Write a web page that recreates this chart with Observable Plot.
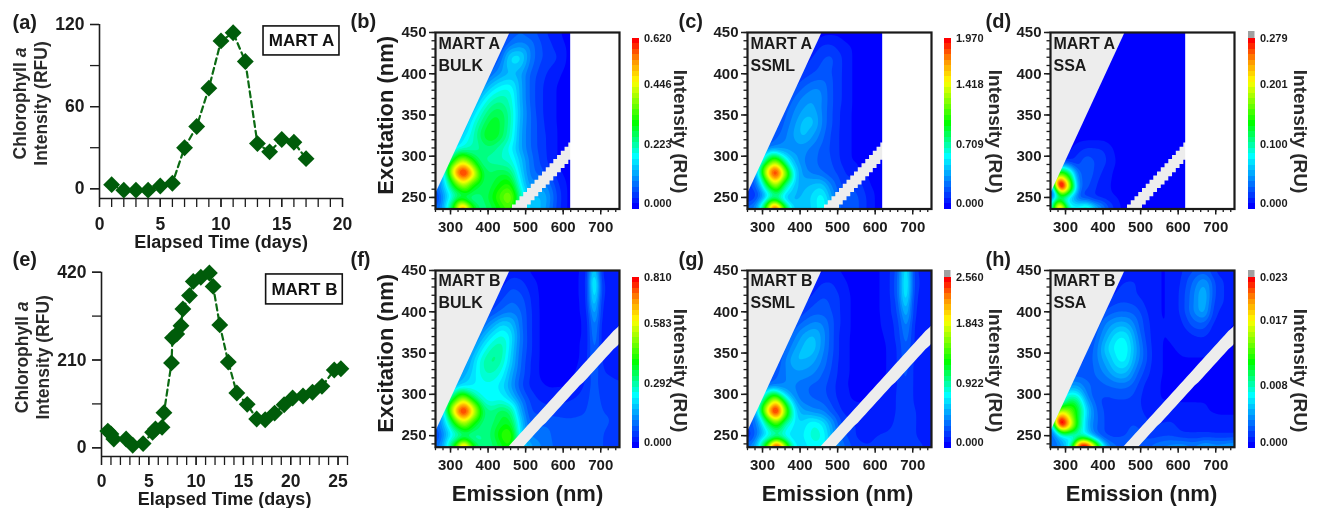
<!DOCTYPE html>
<html><head><meta charset="utf-8">
<script src="https://cdn.jsdelivr.net/npm/d3@7"></script>
<script src="https://cdn.jsdelivr.net/npm/@observablehq/plot@0.6"></script>
<style>
html,body{margin:0;padding:0;background:#fff;}
#page{position:relative;width:1323px;height:508px;overflow:hidden;background:#fff;filter:blur(0.45px);font-family:"Liberation Sans",Arial,sans-serif;}
#page svg{position:absolute;max-width:none;}
</style></head><body><div id="page"></div>
<script>
// ---- Chlorophyll a time series
const dayA=[1,2,3,4,5,6,7,8,9,10,11,12,13,14,15,16,17];
const chlA=[3,-1,-1,-1,2,4,30,45.5,73.5,108,114,93,33,27,36,34,22];
const dayB=[0.67,1,1.3,2.6,3.3,4.4,5.4,5.7,6.4,6.6,7.4,7.5,7.95,8.4,8.6,9.3,9.7,10.5,11.4,11.8,12.5,13.4,14.3,15.4,16.4,17.3,18.3,19.3,20.2,21.3,22.3,23.3,24.6,25.3];
const chlB=[40,33,21,21,6,10,37,45,49,84,203,263,272,292,332,364,398,408,418,386,294,205,131,104,69,67,83,103,119,124,133,147,186,189];

// ---- EEM axes (nm)
const emission=[260,285,310,335,360,385,410,435,460,485,510,535,560,585,610,640,668,683,698,750];
const excitation=[450,435,420,400,385,370,355,340,325,310,295,280,265,250,236];
const bandEm=[455,465,475,485,495,505,515,525,535,545,555,565,575,585,595,605,615,625,635,645,655,665,675,685,695,705,715,725,735,745,755];
const bandLow=[236,236,236,236,236,241,246,251,256,261,265,270,275,280,285,290,295,300,305,310,314,319,324,329,334,339,344,349,354,358,363];
const bandHigh=[236,241,246,251,256,261,266,271,276,281,286,291,296,301,306,311,316,321,326,331,336,341,346,351,356,361,366,371,376,380,385];

// ---- EEM intensity, % of each colour bar's top value
const gridB=[
[0,0,0,0,0,0,0,0,10,13,11,9,6,4,2,0,0,0,0,0],
[0,0,0,0,0,0,0,8,16,18,16,11,8,5,3,0,0,0,0,0],
[0,0,0,0,0,0,6,14,29,30,17,11,9,7,3,0,0,0,0,0],
[0,0,0,0,0,7,15,20,23,21,13,9,6,4,2,0,0,0,0,0],
[0,0,0,0,7,18,26,31,32,22,13,8,5,3,2,0,0,0,0,0],
[0,0,0,0,16,28,36,39,36,22,13,8,5,3,2,0,0,0,0,0],
[0,0,0,10,26,36,44,45,38,23,14,8,5,3,2,0,0,0,0,0],
[0,0,5,22,33,42,50,47,38,22,14,9,5,3,2,0,0,0,0,0],
[0,5,20,29,36,47,52,46,36,21,14,9,6,3,2,0,0,0,0,0],
[0,10,28,34,38,41,42,37,31,21,14,9,6,3,2,0,0,0,0,0],
[5,26,54,72,52,40,38,36,35,26,16,10,6,3,2,0,0,0,0,0],
[8,36,88,114,84,46,43,46,44,28,16,12,8,4,2,0,0,0,0,0],
[12,28,54,72,50,43,46,52,56,32,18,20,16,7,3,0,0,0,0,0],
[5,22,35,40,38,43,50,60,68,40,22,25,20,9,3,0,0,0,0,0],
[12,25,55,110,55,40,45,52,60,30,27,25,18,8,3,0,0,0,0,0]];
const gridC=[
[0,0,0,0,0,0,0,0,2,2,2,2,2,2,2,0,0,0,0,0],
[0,0,0,0,0,0,0,4,7,7,4,3,3,2,2,0,0,0,0,0],
[0,0,0,0,0,0,4,7,10,11,7,3,3,2,2,0,0,0,0,0],
[0,0,0,0,0,5,8,10,11,10,7,3,3,2,2,0,0,0,0,0],
[0,0,0,0,4,9,13,16,16,10,7,3,3,2,2,0,0,0,0,0],
[0,0,0,0,8,14,18,20,17,10,7,3,3,2,2,0,0,0,0,0],
[0,0,0,5,12,17,21,22,16,10,6,3,3,2,2,0,0,0,0,0],
[0,0,3,9,14,19,26,25,16,10,6,3,3,2,2,0,0,0,0,0],
[0,3,8,12,16,21,25,20,14,9,6,3,3,2,2,0,0,0,0,0],
[0,6,13,17,19,18,18,15,12,9,6,3,3,2,2,0,0,0,0,0],
[3,14,42,66,36,22,16,14,12,10,6,3,3,2,2,0,0,0,0,0],
[6,24,80,116,72,28,18,15,13,11,8,5,3,2,2,0,0,0,0,0],
[8,14,46,74,38,24,22,24,26,16,9,10,8,3,2,0,0,0,0,0],
[5,8,22,35,22,22,24,28,34,20,10,12,10,5,2,0,0,0,0,0],
[15,20,58,125,58,25,24,27,34,22,12,12,10,5,2,0,0,0,0,0]];
const gridD=[
[0,0,0,0,0,0,0,0,1,1,1,1,1,1,1,0,0,0,0,0],
[0,0,0,0,0,0,0,1,1,1,1,1,1,1,1,0,0,0,0,0],
[0,0,0,0,0,0,1,1,1,1,1,1,1,1,1,0,0,0,0,0],
[0,0,0,0,0,1,1,1,1,1,1,1,1,1,1,0,0,0,0,0],
[0,0,0,0,1,1,1,1,1,1,1,1,1,1,1,0,0,0,0,0],
[0,0,0,0,1,1,1,1,1,1,1,1,1,1,1,0,0,0,0,0],
[0,0,0,1,1,1,1,1,1,1,1,1,1,1,1,0,0,0,0,0],
[0,0,1,1,1,1,1,1,1,1,1,1,1,1,1,0,0,0,0,0],
[0,1,1,1,1,1,1,1,1,1,1,1,1,1,1,0,0,0,0,0],
[0,1,2,5,7,7,6,2,1,1,1,1,1,1,1,0,0,0,0,0],
[1,3,5,9,13,9,7,3,1,1,1,1,1,1,1,0,0,0,0,0],
[2,60,46,12,13,8,5,2,1,1,1,1,1,1,1,0,0,0,0,0],
[2,145,75,14,11,6,4,2,1,1,1,1,1,1,1,0,0,0,0,0],
[4,38,24,8,7,5,4,3,3,1,1,1,1,1,1,0,0,0,0,0],
[10,120,32,35,45,25,12,5,2,1,1,1,1,1,1,0,0,0,0,0]];
const gridF=[
[0,0,0,0,0,0,0,0,4,4,3,2,2,2,2,3,5,40,5,4],
[0,0,0,0,0,0,0,5,9,8,5,3,2,2,2,3,6,52,6,6],
[0,0,0,0,0,0,5,8,12,11,7,3,2,2,2,3,6,46,6,6],
[0,0,0,0,0,6,10,14,16,14,8,3,2,2,2,3,5,34,5,5],
[0,0,0,0,5,13,20,27,25,15,8,3,2,2,2,3,4,27,4,4],
[0,0,0,0,12,22,30,35,30,16,8,3,2,2,2,3,4,24,4,4],
[0,0,0,7,20,30,38,40,28,15,8,3,2,2,2,3,5,20,5,4],
[0,0,4,16,26,37,42,38,26,14,7,3,2,2,2,3,6,18,6,5],
[0,4,14,22,28,36,37,33,22,13,7,3,2,2,2,4,7,16,7,6],
[0,9,22,28,30,32,32,28,20,11,6,4,3,3,3,5,8,14,8,7],
[4,24,50,72,46,32,30,32,26,16,9,6,5,6,6,7,9,14,9,8],
[8,36,86,114,80,45,40,46,42,22,10,9,8,8,8,9,10,14,10,9],
[12,26,52,72,50,40,42,48,50,28,12,13,13,12,11,11,11,14,11,9],
[6,20,32,38,36,40,44,55,62,30,16,15,14,12,11,11,12,13,10,9],
[14,25,54,112,55,40,42,48,54,32,22,18,15,12,11,11,12,13,10,9]];
const gridG=[
[0,0,0,0,0,0,0,0,3,3,3,2,2,2,3,6,14,42,8,3],
[0,0,0,0,0,0,0,4,7,7,4,3,2,2,3,6,16,44,9,3],
[0,0,0,0,0,0,4,7,10,9,6,3,2,2,3,6,16,42,8,3],
[0,0,0,0,0,5,9,12,12,10,6,3,2,2,3,6,12,32,7,3],
[0,0,0,0,4,11,15,18,17,11,6,3,2,2,3,5,10,24,6,3],
[0,0,0,0,9,16,22,25,19,11,5,3,2,2,2,5,9,20,6,3],
[0,0,0,5,13,20,25,26,18,11,5,3,2,2,2,4,8,17,6,3],
[0,0,3,9,17,24,23,21,16,10,5,3,2,2,2,4,8,15,6,3],
[0,3,7,12,17,19,19,17,13,9,5,3,2,2,2,4,8,13,6,3],
[0,6,13,16,17,17,14,12,11,8,4,3,2,2,3,4,8,12,6,4],
[4,16,46,72,36,18,14,13,12,8,5,3,3,3,3,5,8,12,6,4],
[7,26,80,122,66,28,20,17,17,11,6,5,4,4,4,5,8,11,7,5],
[10,16,40,62,36,28,28,34,30,20,9,7,6,5,5,6,8,11,7,5],
[5,14,28,34,28,28,30,36,34,22,12,8,5,6,7,7,9,10,7,5],
[16,24,60,135,80,30,28,32,32,24,16,10,8,7,7,7,9,10,8,6]];
const gridH=[
[0,0,0,0,0,0,0,0,5,5,5,4,3,4,6,9,11,10,6,3],
[0,0,0,0,0,0,0,6,7,7,5,4,3,4,7,14,21,18,9,4],
[0,0,0,0,0,0,5,7,8,7,5,4,3,4,8,16,25,18,9,4],
[0,0,0,0,0,7,11,13,13,12,8,4,3,4,8,17,24,14,7,4],
[0,0,0,0,6,11,18,22,22,16,9,5,3,4,6,12,13,8,5,3],
[0,0,0,0,8,14,22,30,31,20,10,5,3,4,5,6,7,5,4,3],
[0,0,0,7,10,16,27,32,34,22,12,5,3,3,4,4,4,4,3,3],
[0,0,7,9,11,16,22,30,32,20,12,5,3,3,3,3,3,3,3,3],
[0,6,10,12,12,14,18,24,24,15,9,5,3,3,3,3,3,3,3,3],
[0,10,20,20,14,12,13,14,14,11,6,4,3,3,3,3,3,3,3,3],
[5,20,42,38,16,10,9,10,10,9,5,4,3,3,3,3,3,3,3,3],
[10,76,66,48,24,12,9,8,9,9,6,4,4,5,4,4,4,3,3,3],
[16,135,90,45,20,13,9,5,9,10,8,6,7,7,5,5,5,5,4,4],
[12,25,30,30,25,12,9,9,10,12,10,8,9,9,7,7,7,7,7,7],
[14,16,28,125,125,70,22,14,12,10,12,16,18,20,22,18,24,22,20,24]];

// ---- colour bar labels
const ticksB=[0,0.223,0.446,0.620];
const ticksC=[0,0.709,1.418,1.970];
const ticksD=[0,0.100,0.201,0.279];
const ticksF=[0,0.292,0.583,0.810];
const ticksG=[0,0.922,1.843,2.560];
const ticksH=[0,0.008,0.017,0.023];

const ink="#1c1c1c";
const font='"Liberation Sans",Arial,sans-serif';
const page=document.getElementById("page");
const baseStyle={background:"transparent",overflow:"visible",color:ink,fontFamily:font,fontWeight:"bold"};
function place(svg,left,top){svg.style.left=left+"px";svg.style.top=top+"px";page.appendChild(svg);return svg;}
const ramp=["#0000ff","#00ffff","#00ff00","#ffff00","#ff9000","#ff0000","#a8a8a8"];
const rampStops=[0,.3,.5,.75,.88,1,1.012];
const colorScale=m=>({type:"linear",domain:rampStops.map(s=>s*m),range:ramp,clamp:true,interpolate:"rgb"});

function timePanel(o){
  const L=o.left,T=o.frameTop,W=350,H=o.frameBottom-T;
  const days=d3.range(0,o.xMax+1);
  const svg=Plot.plot({
    width:W,height:T-o.top+H+54,marginLeft:L,marginRight:W-o.right,marginTop:T-o.top,marginBottom:54,
    style:baseStyle,
    x:{domain:[0,o.xMax],axis:null},
    y:{domain:[o.yMin,o.yMax],axis:null},
    marks:[
      Plot.ruleX([0],{strokeWidth:1.6}),
      Plot.ruleY([o.yMin],{strokeWidth:1.6}),
      Plot.axisX({ticks:days,tickSize:9,strokeWidth:1.3,fill:"none",label:null}),
      Plot.axisX({ticks:o.xLabels,tickSize:9,tickPadding:o.xPad,strokeWidth:1.3,fontSize:17.5,label:null}),
      Plot.axisY({ticks:o.yTicks,tickSize:9,strokeWidth:1.3,fill:"none",label:null}),
      Plot.axisY({ticks:o.yLabels,tickSize:9,tickPadding:6,strokeWidth:1.3,fontSize:17.5,label:null}),
      Plot.line(o.days,{x:o.days,y:o.vals,stroke:"#0b6a12",strokeWidth:2.2,strokeDasharray:"6,4"}),
      Plot.dot(o.days,{x:o.days,y:o.vals,symbol:"diamond2",r:7.6,fill:"#005c0a",stroke:"none"}),
      Plot.rect([0],{x1:o.box[0],x2:o.box[1],y1:o.box[2],y2:o.box[3],fill:"#fff",stroke:"#111",strokeWidth:1.6}),
      Plot.text([o.name],{x:(o.box[0]+o.box[1])/2,y:(o.box[2]+o.box[3])/2,fontSize:17,fill:"#111"}),
      Plot.text(["Chlorophyll a"],{frameAnchor:"left",textAnchor:"middle",dx:-79,dy:o.titleDy,rotate:-90,fontSize:17.5,fill:"#2a2a2a"}),
      Plot.text(["Intensity (RFU)"],{frameAnchor:"left",textAnchor:"middle",dx:-58,dy:o.titleDy,rotate:-90,fontSize:17.5,fill:"#2a2a2a"}),
      Plot.text(["Elapsed Time (days)"],{frameAnchor:"bottom",lineAnchor:"middle",dy:o.titleY,fontSize:18}),
      Plot.text([o.letter],{frameAnchor:"top-left",lineAnchor:"middle",textAnchor:"start",dx:12-L,dy:o.letterY-T,fontSize:20})
    ]
  });
  d3.select(svg).selectAll("text").filter(function(){return this.textContent==="Chlorophyll a";})
    .html('Chlorophyll <tspan font-style="italic">a</tspan>');
  place(svg,0,o.top);
}

function heatPanel(o){
  const mL=90,mT=30,mR=10,mB=60,fw=184,fh=o.frameH;
  const pts=excitation.flatMap((ex,r)=>emission.map((em,c)=>({em,ex,v:o.grid[r][c]/100*o.max})));
  const step=o.max/30;
  const thresholds=[...d3.range(0,31).map(i=>i*step),o.max*1.006,o.max*1.012];
  const marks=[
    Plot.frame({fill:"#0000ff",stroke:"none"}),
    Plot.contour(pts,{x:"em",y:"ex",fill:"v",interpolate:"barycentric",pixelSize:1,blur:3,thresholds,clip:true}),
    Plot.areaY(bandEm,{x:bandEm,y1:bandLow,y2:bandHigh,fill:"#ededed",curve:o.cut?"step-after":"linear",clip:true}),
    Plot.areaY([260,459],{x:[260,459],y1:[254,450],y2:[450,450],fill:"#ededed",clip:true})
  ];
  if(o.cut) marks.push(Plot.rect([0],{x1:o.cut,x2:750,y1:236,y2:450,fill:"#fff"}));
  marks.push(
    Plot.frame({stroke:"#1a1a1a",strokeWidth:2.2}),
    Plot.axisX({ticks:d3.range(260,751,20),tickSize:3.5,strokeWidth:1.3,fill:"none",label:null}),
    Plot.axisX({ticks:[300,400,500,600,700],tickSize:6,tickPadding:6,strokeWidth:1.5,fontSize:15,label:null}),
    Plot.axisY({ticks:d3.range(240,451,10),tickSize:3.5,strokeWidth:1.3,fill:"none",label:null}),
    Plot.axisY({ticks:[250,300,350,400,450],tickSize:6,tickPadding:3,strokeWidth:1.5,fontSize:15,label:null}),
    Plot.text([o.name],{frameAnchor:"top-left",lineAnchor:"middle",textAnchor:"start",dx:3,dy:o.nameDy,fontSize:16,fill:"#1a1a1a"}),
    Plot.text([o.kind],{frameAnchor:"top-left",lineAnchor:"middle",textAnchor:"start",dx:3,dy:o.nameDy+22,fontSize:16,fill:"#1a1a1a"}),
    Plot.text([o.letter],{frameAnchor:"top-left",lineAnchor:"middle",textAnchor:"start",dx:o.letterDx,dy:-10.5,fontSize:20})
  );
  if(o.yTitle) marks.push(Plot.text(["Excitation (nm)"],{frameAnchor:"left",textAnchor:"middle",dx:-50,dy:-5.5,rotate:-90,fontSize:22}));
  if(o.xTitle) marks.push(Plot.text(["Emission (nm)"],{frameAnchor:"bottom",lineAnchor:"middle",dy:46.5,dx:o.xTitleDx,fontSize:22}));
  const svg=Plot.plot({
    width:mL+fw+mR,height:mT+fh+mB,marginLeft:mL,marginRight:mR,marginTop:mT,marginBottom:mB,style:baseStyle,
    x:{domain:[260,750],axis:null},y:{domain:[236,450],axis:null},color:colorScale(o.max),marks
  });
  place(svg,o.left-mL,o.top-mT);
}

function colorBar(o){
  const step=o.max/30,mT=10,mB=6;
  const levels=d3.range(0,31).map(i=>({v:i*step,lo:(i===0?-1.09:i-1)*step,hi:i*step}));
  const marks=[
    Plot.rect(levels,{x1:0,x2:1,y1:"lo",y2:"hi",fill:"v",shapeRendering:"crispEdges"}),
    Plot.axisY({anchor:"right",ticks:o.ticks,tickFormat:d3.format(".3f"),tickSize:0,tickPadding:5,fontSize:11,label:null}),
    Plot.text(["Intensity (RU)"],{frameAnchor:"left",textAnchor:"middle",dx:o.titleDx,dy:11,rotate:90,fontSize:19,fill:"#2a2a2a"})
  ];
  if(o.hatch) marks.push(Plot.rect([0],{x1:0,x2:1,y1:30*step,y2:31.27*step,fill:"#a0a0a0"}));
  const svg=Plot.plot({
    width:6.5+70,height:mT+178+mB,marginLeft:0,marginRight:70,marginTop:mT,marginBottom:mB,style:baseStyle,
    x:{domain:[0,1],axis:null},y:{domain:[-1.09*step,31.27*step],axis:null},color:colorScale(o.max),marks
  });
  place(svg,o.left,o.top-mT);
}

timePanel({left:99,right:342,top:0,frameTop:24,frameBottom:198,xMax:20,yMin:-7.1,yMax:120,days:dayA,vals:chlA,xPad:10,titleY:44,
  xLabels:[0,5,10,15,20],yTicks:[0,30,60,90,120],yLabels:[0,60,120],name:"MART A",box:[13.5,19.75,97.4,118.6],titleDy:-8,letter:"(a)",letterY:22});
timePanel({left:101,right:347,top:250,frameTop:271.7,frameBottom:456,xMax:26,yMin:-20.8,yMax:420,days:dayB,vals:chlB,xPad:9,titleY:42.5,
  xLabels:[0,5,10,15,20,25],yTicks:[0,105,210,315,420],yLabels:[0,210,420],name:"MART B",box:[17.4,25.5,343,414.6],titleDy:-7,letter:"(e)",letterY:259.5});

const rowA={top:31.5,frameH:176.5,nameDy:11.5,cut:620};
const rowB={top:270,frameH:176.7,nameDy:10.7,cut:null};
heatPanel({...rowA,left:435,grid:gridB,max:0.620,name:"MART A",kind:"BULK",letter:"(b)",letterDx:-85,yTitle:true});
heatPanel({...rowA,left:746.7,grid:gridC,max:1.970,name:"MART A",kind:"SSML",letter:"(c)",letterDx:-69});
heatPanel({...rowA,left:1050.3,grid:gridD,max:0.279,name:"MART A",kind:"SSA",letter:"(d)",letterDx:-65});
heatPanel({...rowB,left:435,grid:gridF,max:0.810,name:"MART B",kind:"BULK",letter:"(f)",letterDx:-85,yTitle:true,xTitle:true,xTitleDx:0});
heatPanel({...rowB,left:746.7,grid:gridG,max:2.560,name:"MART B",kind:"SSML",letter:"(g)",letterDx:-69,xTitle:true,xTitleDx:-2});
heatPanel({...rowB,left:1050.3,grid:gridH,max:0.023,name:"MART B",kind:"SSA",letter:"(h)",letterDx:-65,xTitle:true,xTitleDx:-1});

colorBar({left:632.2,top:31,max:0.620,ticks:ticksB,titleDx:48});
colorBar({left:944.2,top:31,max:1.970,ticks:ticksC,titleDx:51,});
colorBar({left:1247.5,top:31,max:0.279,ticks:ticksD,titleDx:52,hatch:true});
colorBar({left:632.2,top:269.5,max:0.810,ticks:ticksF,titleDx:48});
colorBar({left:944.2,top:269.5,max:2.560,ticks:ticksG,titleDx:51,hatch:true});
colorBar({left:1247.5,top:269.5,max:0.023,ticks:ticksH,titleDx:52,hatch:true});
</script></body></html>
